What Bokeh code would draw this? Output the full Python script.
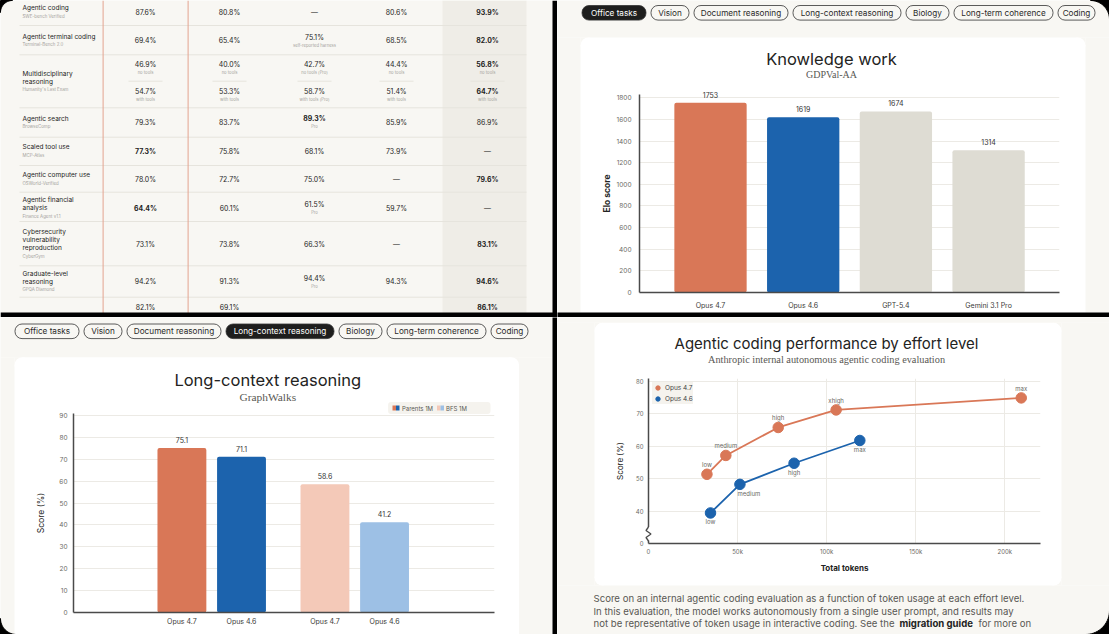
import math
from bokeh.plotting import figure
from bokeh.models import (Range1d, ColumnDataSource, FixedTicker, Legend, LegendItem)
from bokeh.layouts import row, column
from bokeh.embed import file_html
from bokeh.resources import INLINE
from bokeh.core.properties import value

# ======================= DATA =======================
# --- top-left: benchmark table (model header row is cut off in the screenshot)
task_lines = [["Agentic coding"], ["Agentic terminal coding"], ["Multidisciplinary", "reasoning"],
              ["Agentic search"], ["Scaled tool use"], ["Agentic computer use"],
              ["Agentic financial", "analysis"], ["Cybersecurity", "vulnerability", "reproduction"],
              ["Graduate-level", "reasoning"]]
benchmarks = ["SWE-bench Verified", "Terminal-Bench 2.0", "Humanity's Last Exam", "BrowseComp",
              "MCP-Atlas", "OSWorld-Verified", "Finance Agent v1.1", "CyberGym", "GPQA Diamond"]
# one entry per table line (Humanity's Last Exam has two lines; the last line is cut off)
scores_col1 = ["87.6%", "69.4%", "46.9%", "54.7%", "79.3%", "77.3%", "78.0%", "64.4%", "73.1%", "94.2%", "82.1%"]
scores_col2 = ["80.8%", "65.4%", "40.0%", "53.3%", "83.7%", "75.8%", "72.7%", "60.1%", "73.8%", "91.3%", "69.1%"]
scores_col3 = ["—", "75.1%", "42.7%", "58.7%", "89.3%", "68.1%", "75.0%", "61.5%", "66.3%", "94.4%", ""]
scores_col4 = ["80.6%", "68.5%", "44.4%", "51.4%", "85.9%", "73.9%", "—", "59.7%", "—", "94.3%", ""]
scores_col5 = ["93.9%", "82.0%", "56.8%", "64.7%", "86.9%", "—", "79.6%", "—", "83.1%", "94.6%", "86.1%"]
notes_std = ["", "", "no tools", "with tools", "", "", "", "", "", "", ""]
notes_col3 = ["", "self-reported harness", "no tools (Pro)", "with tools (Pro)", "Pro", "", "", "Pro", "", "Pro", ""]

# --- tabs
tab_names = ["Office tasks", "Vision", "Document reasoning", "Long-context reasoning",
             "Biology", "Long-term coherence", "Coding"]

# --- top-right: Knowledge work (GDPVal-AA)
kw_models = ["Opus 4.7", "Opus 4.6", "GPT-5.4", "Gemini 3.1 Pro"]
kw_elo = [1753, 1619, 1674, 1314]
kw_yticks = [0, 200, 400, 600, 800, 1000, 1200, 1400, 1600, 1800]

# --- bottom-left: Long-context reasoning (GraphWalks)
lc_models = ["Opus 4.7", "Opus 4.6"]
lc_series = ["Parents 1M", "BFS 1M"]
lc_parents = [75.1, 71.1]
lc_bfs = [58.6, 41.2]
lc_yticks = [0, 10, 20, 30, 40, 50, 60, 70, 80, 90]

# --- bottom-right: Agentic coding performance by effort level
effort_47 = ["low", "medium", "high", "xhigh", "max"]
tokens_47 = [32800, 43400, 72800, 105300, 209200]
score_47 = [51.3, 57.1, 65.7, 71.1, 74.8]
effort_46 = ["low", "medium", "high", "max"]
tokens_46 = [34800, 51300, 81700, 118600]
score_46 = [39.4, 48.2, 54.7, 61.7]
eff_xticks = [0, 50000, 100000, 150000, 200000]
eff_yticks = [40, 50, 60, 70, 80]
eff_axis_floor = 30          # broken axis: the bottom of the y axis is labelled "0"
caption = ["Score on an internal agentic coding evaluation as a function of token usage at each effort level.",
           "In this evaluation, the model works autonomously from a single user prompt, and results may",
           "not be representative of token usage in interactive coding. See the",
           "migration guide", "for more on"]

# ======================= STYLE =======================
BEIGE = "#f8f7f3"; BAND = "#efede7"; CARD = "#ffffff"; INK = "#232322"; MUTED = "#595854"
FAINT = "#a4a29c"; ORANGE = "#d97757"; BLUE = "#1c63ad"; GREIGE = "#dedcd3"
LORANGE = "#f4c9b8"; LBLUE = "#9dc0e5"; AXIS = "#4a4a4a"; GRID = "#eceae5"
RED = "#e3a38f"; SEP = "#e6e4dd"; BLACK = "#000000"
SANS = "Inter"; SERIF = "Liberation Serif"
TAB_W = [64, 38, 94, 108, 43, 99, 37]
OV = "overlay"   # decoration drawn outside the plot frame


def make_map(fl, fr, ft, fb, x0, x1, y0, y1):
    def X(px):
        return x0 + (px - fl) * (x1 - x0) / (fr - fl)

    def Y(py):
        return y0 + (fb - py) * (y1 - y0) / (fb - ft)
    return X, Y


def box(p, X, Y, l, r, t, b, color, radius=0, line_color=None, lw=1.0):
    kw = dict(left=[X(l)], right=[X(r)], top=[Y(t)], bottom=[Y(b)], fill_color=color,
              line_color=line_color, line_width=lw, level=OV)
    if radius:
        kw["border_radius"] = radius
    p.quad(**kw)


def lab(p, X, Y, px, py, text, size, color=INK, font=SANS, style="normal", align="center"):
    p.text(x=[X(px)], y=[Y(py)], text=[text], text_font=value(font), text_font_size=f"{size}px",
           text_color=color, text_font_style=style, text_align=align, text_baseline="middle",
           level=OV)


def tabs(p, X, Y, x0, yc, active):
    x = x0
    for i, (name, w) in enumerate(zip(tab_names, TAB_W)):
        on = i == active
        box(p, X, Y, x, x + w, yc - 7.3, yc + 7.3, "#1e1e1d" if on else BEIGE, radius=7,
            line_color="#333333", lw=0.8)
        lab(p, X, Y, x + w / 2, yc, name, 8.2, "#ffffff" if on else "#2a2a29")
        x += w + 5


def corner(p, X, Y, cx, cy, sx, sy, r=8):
    xs = sorted([cx, cx + sx * r]); ys = sorted([cy, cy + sy * r])
    box(p, X, Y, xs[0], xs[1], ys[0], ys[1], BEIGE)
    xs = sorted([cx, cx + sx * 2 * r]); ys = sorted([cy, cy + sy * 2 * r])
    box(p, X, Y, xs[0], xs[1], ys[0], ys[1], CARD, radius=r)


def outer_corner(p, X, Y, cx, cy, sx, sy, r):
    # black screenshot corner: square corner (cx, cy) minus a quarter circle of radius r
    ox, oy = cx + sx * r, cy + sy * r
    arc = []
    for k in range(0, 19):
        a = math.pi / 2 * k / 18
        arc.append((ox - sx * r * math.cos(a), oy - sy * r * math.sin(a)))
    pts = [(cx, cy)] + arc
    p.patch([X(a) for a, _ in pts], [Y(b) for _, b in pts], fill_color=BLACK, line_color=BLACK,
            level=OV)


def chart_fig(left, top, w, h, fl, fr, ft, fb, xr, yr):
    p = figure(width=w, height=h, x_range=Range1d(*xr), y_range=Range1d(*yr),
               min_border_left=fl - left, min_border_right=left + w - fr,
               min_border_top=ft - top, min_border_bottom=top + h - fb,
               toolbar_location=None, output_backend="svg", outline_line_color=None,
               background_fill_color=CARD, border_fill_color=CARD, frame_align=False)
    X, Y = make_map(fl, fr, ft, fb, xr[0], xr[1], yr[0], yr[1])
    return p, X, Y


def style_axes(p, xsize, ysize, xstand, ystand):
    for ax in p.axis:
        ax.major_tick_in = 0; ax.major_tick_out = 0
        ax.minor_tick_in = 0; ax.minor_tick_out = 0
        ax.axis_line_color = AXIS; ax.axis_line_width = 1.5
        ax.major_label_text_font = SANS
        ax.axis_label_text_font = SANS
        ax.axis_label_text_color = INK
        ax.axis_label_text_font_style = "normal"
    p.xaxis.major_label_text_font_size = xsize
    p.yaxis.major_label_text_font_size = ysize
    p.xaxis.major_label_standoff = xstand
    p.yaxis.major_label_standoff = ystand
    p.xaxis.major_label_text_color = "#3a3a38"
    p.yaxis.major_label_text_color = "#6a6964"
    p.xgrid.grid_line_color = None
    p.ygrid.grid_line_color = GRID


def value_labels(p, xs, ys, texts, dy, size="7px", color="#333333", dx=None):
    p.text(x=[x + (dx[i] if dx else 0) for i, x in enumerate(xs)], y=[y + dy for y in ys], text=texts,
           text_align="center", text_baseline="middle", text_font=value(SANS),
           text_font_size=size, text_color=color, level=OV)


# ======================= TOP-LEFT: table =======================
tl = figure(width=557, height=317, x_range=Range1d(0, 557), y_range=Range1d(317, 0),
            x_axis_type=None, y_axis_type=None, min_border=0, toolbar_location=None,
            output_backend="svg", outline_line_color=None, frame_align=False,
            background_fill_color=BEIGE, border_fill_color=BEIGE)
col_x = [145, 229, 314, 396, 487]
line_y = [11.7, 40.2, 68.0, 94.5, 122.0, 150.9, 178.6, 207.5, 243.5, 281.2, 306.7]
task_y = [11.5, 40.2, 81.0, 122.0, 150.9, 178.6, 207.5, 243.5, 281.2]
sep_y = [25, 54.3, 107.3, 136.7, 165, 191.7, 221, 265.3, 296.7]

tl.quad(left=[442], right=[526], top=[0], bottom=[317], fill_color=BAND, line_color=None)
tl.segment(x0=[19] * len(sep_y), x1=[526] * len(sep_y), y0=sep_y, y1=sep_y, line_color=SEP, line_width=1)
tl.segment(x0=[c - 17 for c in col_x], x1=[c + 17 for c in col_x], y0=[80.7] * 5, y1=[80.7] * 5,
           line_color=SEP, line_width=1)
tl.segment(x0=[102.6, 187.6], x1=[102.6, 187.6], y0=[0, 0], y1=[317, 317], line_color=RED, line_width=1)

lx, ly, lt, bx, by, bt = [], [], [], [], [], []
for i, lines in enumerate(task_lines):
    allv = lines + [benchmarks[i]]
    n = len(allv)
    for k, t in enumerate(allv):
        yy = task_y[i] + (k - (n - 1) / 2) * 8
        if k < len(lines):
            lx.append(22); ly.append(yy); lt.append(t)
        else:
            bx.append(22); by.append(yy); bt.append(t)
tl.text(x=lx, y=ly, text=lt, text_font=value(SANS), text_font_size="6.5px", text_color=INK,
        text_baseline="middle", text_align="left")
tl.text(x=bx, y=by, text=bt, text_font=value(SANS), text_font_size="4.4px", text_color=FAINT,
        text_baseline="middle", text_align="left")

score_cols = [scores_col1, scores_col2, scores_col3, scores_col4, scores_col5]
note_cols = [notes_std, notes_std, notes_col3, notes_std, notes_std]
vx, vy, vt, vs, nx, ny, nt = [], [], [], [], [], [], []
for j in range(len(line_y)):
    nums = [float(c[j][:-1]) for c in score_cols if c[j].endswith("%")]
    best = max(nums) if nums else None
    for c in range(5):
        t = score_cols[c][j]
        if not t:
            continue
        note = note_cols[c][j]
        vx.append(col_x[c]); vy.append(line_y[j] - (3.6 if note else 0)); vt.append(t)
        vs.append("bold" if t.endswith("%") and float(t[:-1]) == best else "normal")
        if note:
            nx.append(col_x[c]); ny.append(line_y[j] + 4.4); nt.append(note)
tl.text(x=vx, y=vy, text=vt, text_font_style=vs, text_font=value(SANS), text_font_size="6.9px",
        text_color=INK, text_baseline="middle", text_align="center")
tl.text(x=nx, y=ny, text=nt, text_font=value(SANS), text_font_size="4.2px", text_color=FAINT,
        text_baseline="middle", text_align="center")
tl.quad(left=[552, 0], right=[557, 557], top=[0, 312], bottom=[317, 317], fill_color=BLACK, line_color=None)
outer_corner(tl, lambda v: v, lambda v: v, 0, 0, 1, 1, 12)

# ======================= TOP-RIGHT: Knowledge work =======================
tr, X, Y = chart_fig(557, 0, 552, 317, 639, 1059, 94, 292, (-0.766, 3.765), (0, 1830))
style_axes(tr, "7px", "6.5px", 8, 8)
kw_x = list(range(len(kw_models)))
kw_src = ColumnDataSource(dict(x=kw_x, top=kw_elo, color=[ORANGE, BLUE, GREIGE, GREIGE]))
tr.vbar(x="x", top="top", width=0.78, fill_color="color", line_color=None, source=kw_src,
        border_radius=2)
value_labels(tr, kw_x, kw_elo, [str(v) for v in kw_elo], 8 * 1830 / 198)
tr.xaxis.ticker = FixedTicker(ticks=kw_x)
tr.xaxis.major_label_overrides = {i: m for i, m in enumerate(kw_models)}
tr.yaxis.ticker = FixedTicker(ticks=kw_yticks)
tr.yaxis.axis_label = "Elo score"
tr.yaxis.axis_label_text_font_style = "bold"
tr.yaxis.axis_label_text_font_size = "8.5px"
tr.yaxis.axis_label_standoff = 1
box(tr, X, Y, 557, 1109, 0, 37, BEIGE)
box(tr, X, Y, 557, 580, 37, 312, BEIGE)
box(tr, X, Y, 1085, 1109, 37, 312, BEIGE)
corner(tr, X, Y, 580, 37, 1, 1)
corner(tr, X, Y, 1085, 37, -1, 1)
box(tr, X, Y, 557, 1109, 312, 317, BLACK)
tabs(tr, X, Y, 581.5, 12.3, 0)
lab(tr, X, Y, 831, 58.5, "Knowledge work", 16.5, INK)
lab(tr, X, Y, 831, 73.5, "GDPVal-AA", 10, MUTED, font=SERIF)
outer_corner(tr, X, Y, 1109, 0, -1, 1, 19)

# ======================= BOTTOM-LEFT: Long-context reasoning =======================
bl, X, Y = chart_fig(0, 317, 557, 317, 73, 494, 413, 612, (-18.19, 52.45), (0, 90.87))
style_axes(bl, "7px", "6.5px", 4, 6)
pos, vals, cols, labs = [], [], [], []
for g, (series, palette) in enumerate([(lc_parents, [ORANGE, BLUE]), (lc_bfs, [LORANGE, LBLUE])]):
    for m in range(len(lc_models)):
        pos.append(g * 24 + m * 10); vals.append(series[m]); cols.append(palette[m])
        labs.append(lc_models[m])
lc_src = ColumnDataSource(dict(x=pos, top=vals, color=cols))
bl.vbar(x="x", top="top", width=8.2, fill_color="color", line_color=None, source=lc_src,
        border_radius=2)
value_labels(bl, pos, vals, [f"{v:.1f}" for v in vals], 8 / 2.19)
bl.xaxis.ticker = FixedTicker(ticks=pos)
bl.xaxis.major_label_overrides = {x: l for x, l in zip(pos, labs)}
bl.yaxis.ticker = FixedTicker(ticks=lc_yticks)
bl.yaxis.axis_label = "Score (%)"
bl.yaxis.axis_label_text_font_size = "8.5px"
bl.yaxis.axis_label_standoff = 10
box(bl, X, Y, 0, 552, 317, 356.7, BEIGE)
box(bl, X, Y, 0, 14, 356.7, 634, BEIGE)
box(bl, X, Y, 518.6, 552, 356.7, 634, BEIGE)
corner(bl, X, Y, 14, 356.7, 1, 1)
corner(bl, X, Y, 518.6, 356.7, -1, 1)
box(bl, X, Y, 552, 557, 317, 634, BLACK)
tabs(bl, X, Y, 14.5, 330.8, 3)
lab(bl, X, Y, 267.3, 379.5, "Long-context reasoning", 16.5, INK)
lab(bl, X, Y, 267.3, 396.5, "GraphWalks", 11.4, MUTED, font=SERIF)
# legend (split swatch as in the original)
box(bl, X, Y, 387.6, 490, 401.5, 413.5, "#f5f3ee", radius=3)
box(bl, X, Y, 392, 395.5, 405, 410, ORANGE)
box(bl, X, Y, 395.5, 399, 405, 410, BLUE)
lab(bl, X, Y, 401.5, 407.5, lc_series[0], 6, MUTED, align="left")
box(bl, X, Y, 436.5, 440, 405, 410, LORANGE)
box(bl, X, Y, 440, 443.5, 405, 410, LBLUE)
lab(bl, X, Y, 445.5, 407.5, lc_series[1], 6, MUTED, align="left")
outer_corner(bl, X, Y, 0, 634, 1, -1, 16)

# ======================= BOTTOM-RIGHT: effort level =======================
br, X, Y = chart_fig(557, 317, 552, 317, 648, 1040, 378, 543, (0, 220000), (eff_axis_floor, 80.77))
style_axes(br, "6px", "6px", 4, 5)
br.xgrid.grid_line_color = GRID
br.xaxis.ticker = FixedTicker(ticks=eff_xticks)
br.xaxis.major_label_overrides = {t: ("0" if t == 0 else f"{t // 1000}k") for t in eff_xticks}
br.yaxis.ticker = FixedTicker(ticks=[eff_axis_floor] + eff_yticks)
br.yaxis.major_label_overrides = {eff_axis_floor: "0"}
br.xaxis.axis_label = "Total tokens"
br.xaxis.axis_label_text_font_style = "bold"
br.xaxis.axis_label_text_font_size = "8px"
br.xaxis.axis_label_standoff = 5
br.yaxis.axis_label = "Score (%)"
br.yaxis.axis_label_text_font_size = "8px"
br.yaxis.axis_label_standoff = 8
br.xaxis.major_label_text_color = "#6a6964"

s47 = ColumnDataSource(dict(x=tokens_47, y=score_47))
s46 = ColumnDataSource(dict(x=tokens_46, y=score_46))
br.line("x", "y", source=s47, line_color=ORANGE, line_width=1.8)
br.line("x", "y", source=s46, line_color=BLUE, line_width=1.8)
r47 = br.scatter("x", "y", source=s47, size=10.5, fill_color=ORANGE, line_color=ORANGE)
r46 = br.scatter("x", "y", source=s46, size=10.5, fill_color=BLUE, line_color=BLUE)
px_per_unit = 165 / (80.77 - eff_axis_floor)
px_per_token = 392 / 220000
value_labels(br, tokens_47, score_47, effort_47, 9.5 / px_per_unit, size="6px", color="#6a6964")
value_labels(br, tokens_46, score_46, effort_46, -9 / px_per_unit, size="6px", color="#6a6964",
             dx=[0, 9 / px_per_token, 0, 0])
br.add_layout(Legend(items=[LegendItem(label="Opus 4.7", renderers=[r47]),
                            LegendItem(label="Opus 4.6", renderers=[r46])],
                     location="top_left", margin=4, padding=2, spacing=0, label_standoff=2,
                     glyph_width=11, glyph_height=11, label_height=11,
                     label_text_font=SANS, label_text_font_size="6.5px", label_text_color="#444444",
                     background_fill_color="#f5f3ee", background_fill_alpha=1.0,
                     border_line_color=None))
# axis break marker
box(br, X, Y, 645, 651, 526.5, 540, CARD)
zz_x = [648, 645.5, 650.5, 645.5, 648]
zz_y = [526.5, 530, 533.5, 537, 540.5]
br.line([X(v) for v in zz_x], [Y(v) for v in zz_y], line_color=AXIS, line_width=1.3, level=OV)
box(br, X, Y, 557, 1109, 317, 322.3, BEIGE)
box(br, X, Y, 557, 594, 322.3, 585, BEIGE)
box(br, X, Y, 1061, 1109, 322.3, 585, BEIGE)
box(br, X, Y, 557, 1109, 585, 634, BEIGE)
corner(br, X, Y, 594, 322.3, 1, 1)
corner(br, X, Y, 1061, 322.3, -1, 1)
corner(br, X, Y, 594, 585, 1, -1)
corner(br, X, Y, 1061, 585, -1, -1)
lab(br, X, Y, 826, 343.3, "Agentic coding performance by effort level", 15, INK)
lab(br, X, Y, 826, 359.3, "Anthropic internal autonomous agentic coding evaluation", 10.3, MUTED, font=SERIF)
lab(br, X, Y, 593, 598.3, caption[0], 9.6, MUTED, align="left")
lab(br, X, Y, 593, 610.6, caption[1], 9.6, MUTED, align="left")
lab(br, X, Y, 593, 622.7, caption[2], 9.6, MUTED, align="left")
lab(br, X, Y, 899, 622.7, caption[3], 9.6, INK, style="bold", align="left")
lab(br, X, Y, 978, 622.7, caption[4], 9.6, MUTED, align="left")
outer_corner(br, X, Y, 1109, 634, -1, -1, 24)

layout = column(row(tl, tr, spacing=0), row(bl, br, spacing=0), spacing=0)
open("out.html", "w").write(file_html(layout, INLINE))
